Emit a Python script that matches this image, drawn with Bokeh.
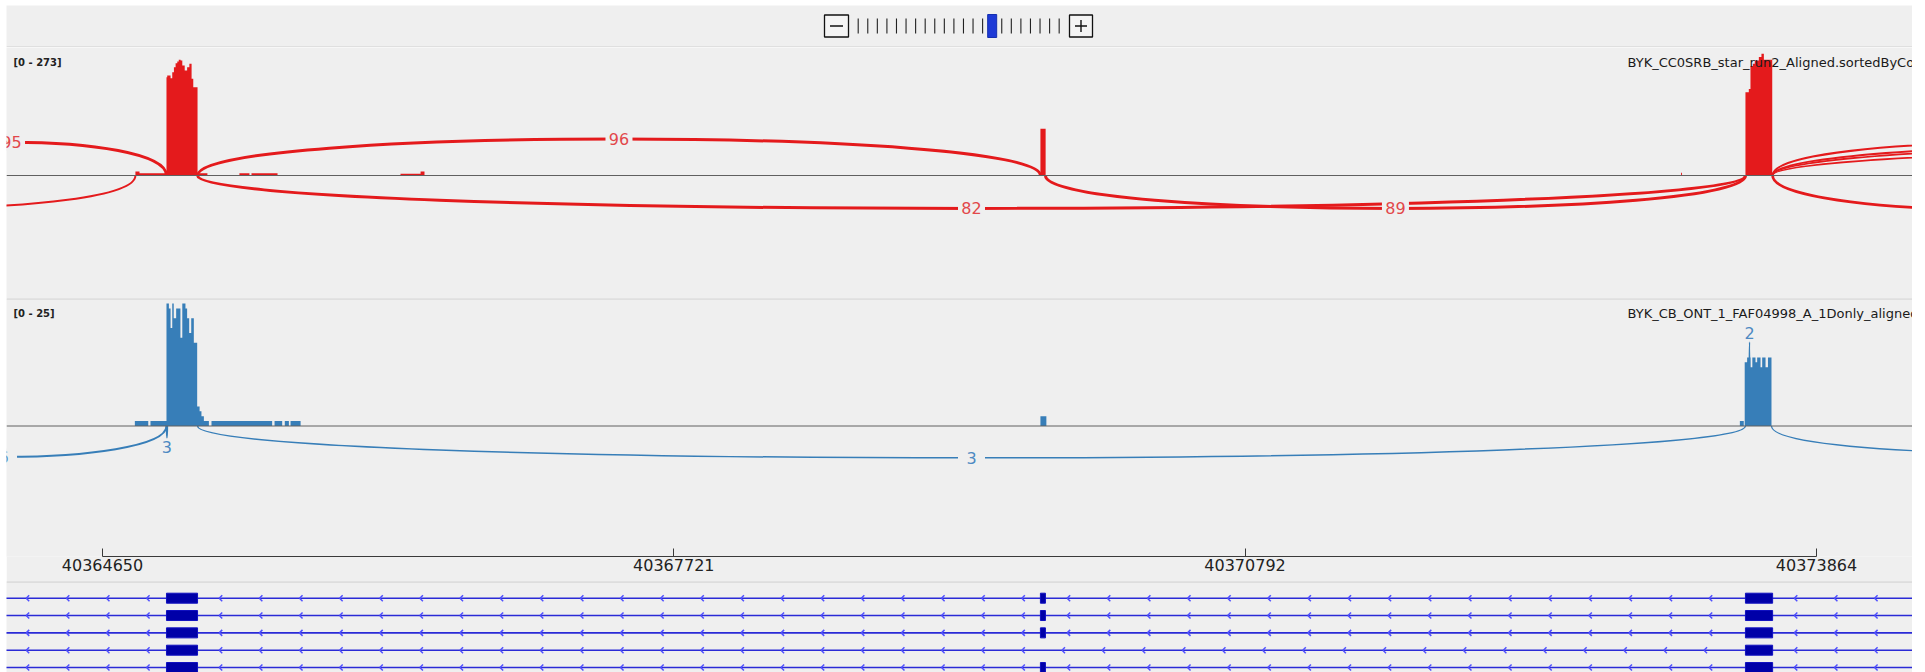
from bokeh.plotting import figure
from bokeh.layouts import column
from bokeh.models import Range1d, Span, Label, FixedTicker, NumeralTickFormatter
from bokeh.core.properties import value
from bokeh.embed import file_html
from bokeh.resources import INLINE

# ---------------- data ----------------
VIEW_START = 40364134
VIEW_END = 40374380
ruler_ticks = [40364650, 40367721, 40370792, 40373864]
zoom_levels = 22
current_zoom = 14

red_name = "BYK_CC0SRB_star_run2_Aligned.sortedByCoord.out.bam"
red_range = "[0 - 273]"
red_cov_start = [40364827, 40364849, 40364994, 40364998, 40365016, 40365025, 40365034, 40365043,
                 40365052, 40365060, 40365070, 40365079, 40365092, 40365105, 40365117, 40365129,
                 40365138, 40365161, 40365386, 40365451, 40366252, 40366360, 40369692, 40373136,
                 40373482, 40373500, 40373509, 40373522, 40373532, 40373554, 40373568, 40373581]
red_cov_end = [40364849, 40364994, 40364998, 40365016, 40365025, 40365034, 40365043, 40365052,
               40365060, 40365070, 40365079, 40365092, 40365105, 40365117, 40365129, 40365138,
               40365161, 40365214, 40365440, 40365591, 40366360, 40366381, 40369720, 40373141,
               40373500, 40373509, 40373522, 40373532, 40373554, 40373568, 40373581, 40373626]
red_cov_depth = [9, 5, 218, 222, 216, 229, 240, 249, 253, 257, 255, 244, 233, 240, 248, 215,
                 196, 5, 5, 5, 4, 9, 104, 6, 185, 192, 243, 248, 255, 263, 270, 257]

red_jx_start = [40363328, 40365161, 40365161, 40369719, 40362500, 40373628, 40373628, 40373628, 40373628, 40373628]
red_jx_end = [40364994, 40369692, 40373482, 40373482, 40364827, 40376315, 40378616, 40380229, 40384379, 40376315]
red_jx_count = [95, 96, 82, 89, 35, 40, 30, 25, 20, 70]
red_jx_side = [1, 1, -1, -1, -1, 1, 1, 1, 1, -1]
red_jx_peak = [74, 81, 73, 73, 72, 73, 73, 73, 73, 78]

blue_name = "BYK_CB_ONT_1_FAF04998_A_1Donly_aligned.sorted.bam"
blue_range = "[0 - 25]"
blue_cov_start = [40364824, 40364908, 40364994, 40365007, 40365016, 40365025, 40365033, 40365046,
                  40365069, 40365079, 40365096, 40365105, 40365116, 40365127, 40365141, 40365159,
                  40365172, 40365182, 40365195, 40365236, 40365575, 40365630, 40365661, 40369692,
                  40373452, 40373478, 40373491, 40373509, 40373519, 40373536, 40373545, 40373563,
                  40373572, 40373590, 40373603]
blue_cov_end = [40364896, 40364994, 40365007, 40365016, 40365025, 40365033, 40365046, 40365069,
                40365079, 40365096, 40365105, 40365116, 40365127, 40365141, 40365159, 40365172,
                40365182, 40365195, 40365222, 40365562, 40365616, 40365652, 40365715, 40369724,
                40373473, 40373491, 40373509, 40373519, 40373536, 40373545, 40373563, 40373572,
                40373590, 40373603, 40373622]
blue_cov_depth = [1, 1, 25, 24, 20, 25, 22, 24, 18, 25, 24, 22, 19, 22, 17, 4, 3, 2, 1, 1, 1, 1, 1,
                  2, 1, 13, 14, 12, 14, 13, 14, 12, 14, 12, 14]

blue_jx_start = [40363242, 40365161, 40364994, 40373502, 40373622]
blue_jx_end = [40364994, 40373482, 40364999, 40373506, 40376315]
blue_jx_count = [6, 3, 3, 2, 2]
blue_jx_side = [-1, -1, -1, 1, -1]
blue_jx_peak = [6.3, 6.5, 2.4, 17.1, 5.5]

gene_exon_start = [40362300, 40364994, 40369692, 40373482, 40376315]
gene_exon_end = [40363328, 40365161, 40369719, 40373628, 40376450]
transcripts = [[0, 1, 2, 3, 4], [0, 1, 2, 3, 4], [0, 1, 2, 3, 4], [0, 1, 3, 4], [0, 1, 2, 3, 4]]

# ---------------- style / layout ----------------
W = 1906
BG = "#efefef"
FONT = "DejaVu Sans"
RED = "#e41a1c"
RED_LBL = "#e2474a"
BLUE = "#377eb8"
BLUE_LBL = "#4d89c2"
BPP = (VIEW_END - VIEW_START) / W

xr = Range1d(VIEW_START, VIEW_END)


def base_fig(height, x_range, y_range, **kw):
    opts = dict(width=W, height=height, x_range=x_range, y_range=y_range,
                output_backend="svg", toolbar_location=None, min_border=0,
                background_fill_color=BG, border_fill_color=BG, outline_line_color=None,
                x_axis_location=None, y_axis_location=None)
    opts.update(kw)
    p = figure(**opts)
    p.xgrid.grid_line_color = None
    p.ygrid.grid_line_color = None
    return p


def coverage_runs(starts, ends, depths):
    xs, ys = [], []
    cx, cy = [], []
    prev = None
    for s, e, d in sorted(zip(starts, ends, depths)):
        if prev is None or s != prev:
            if cx:
                cx.append(prev); cy.append(0)
                xs.append(cx); ys.append(cy)
            cx, cy = [s], [0]
        cx += [s, e]
        cy += [d, d]
        prev = e
    if cx:
        cx.append(prev); cy.append(0)
        xs.append(cx); ys.append(cy)
    return xs, ys


def draw_track(p, ppu, cov, jx, color, lbl_color, width_fn, name, rng, label_y):
    s, e, c, side, peak = jx
    n = len(s)
    cyv = [sd * pk / 0.75 for sd, pk in zip(side, peak)]
    p.bezier(x0=s, y0=[0] * n, x1=e, y1=[0] * n, cx0=s, cy0=cyv, cx1=e, cy1=cyv,
             line_color=color, line_width=[width_fn(v) for v in c])
    xs, ys = coverage_runs(*cov)
    p.patches(xs, ys, fill_color=color, line_color=None)
    p.add_layout(Span(location=0, dimension="width", line_color="#606060", line_width=1))
    lx, ly, lt, bx, by = [], [], [], [], []
    for i in range(n):
        mid = (s[i] + e[i]) / 2
        # labels of arcs whose middle lies outside the view are not drawn
        if mid < VIEW_START - 12 * BPP or mid > VIEW_END + 12 * BPP:
            continue
        tiny = (e[i] - s[i]) / BPP < 3
        y = side[i] * (peak[i] + (9.5 / ppu if tiny else 0))
        lx.append(mid); ly.append(y); lt.append(str(c[i]))
        if not tiny:
            bx.append(mid); by.append(y)
    p.rect(x=bx, y=by, width=27, height=17, width_units="screen", height_units="screen",
           fill_color=BG, line_color=None)
    p.text(x=lx, y=ly, text=lt, text_align="center", text_baseline="middle",
           text_font=value(FONT), text_font_size="16px", text_color=lbl_color)
    p.add_layout(Label(x=VIEW_START + 7 * BPP, y=label_y, text=rng, text_font=FONT,
                       text_font_size="10px", text_font_style="bold", text_color="#222222",
                       text_baseline="middle"))
    p.add_layout(Label(x=VIEW_START + 1621 * BPP, y=label_y, text=name, text_font=FONT,
                       text_font_size="13px", text_color="#1a1a1a", text_baseline="middle"))


# ---------------- header (zoom widget) ----------------
hdr = base_fig(42, Range1d(6, 1912), Range1d(47, 5))
hdr.quad(left=[824, 1069], right=[848, 1092], top=[14.5, 14.5], bottom=[36.5, 36.5],
         fill_color="#f4f4f4", line_color="#111111", line_width=1.3)
hdr.segment(x0=[829.5, 1074.5, 1080.5], y0=[25.5, 25.5, 19.5], x1=[842.5, 1086.5, 1080.5],
            y1=[25.5, 25.5, 31.5], line_color="#111111", line_width=1.4)
tick_x = [857.7 + 9.57 * i for i in range(zoom_levels) if i != current_zoom]
hdr.segment(x0=tick_x, y0=[18] * len(tick_x), x1=tick_x, y1=[33] * len(tick_x),
            line_color="#222222", line_width=1.1)
cur_x = 857.7 + 9.57 * current_zoom
hdr.quad(left=[cur_x - 4.5], right=[cur_x + 4.5], top=[14], bottom=[37],
         fill_color="#1e3ad6", line_color="#1530b0", line_width=1)
hdr.segment(x0=[6], y0=[46.5], x1=[1912], y1=[46.5], line_color="#d0d0d0", line_width=1.2)

# ---------------- track 1 (red) ----------------
T1_LO, T1_HI = -273.0, 284.1
t1 = base_fig(251, xr, Range1d(T1_LO, T1_HI))
ppu1 = 251 / (T1_HI - T1_LO)
draw_track(t1, ppu1, (red_cov_start, red_cov_end, red_cov_depth),
           (red_jx_start, red_jx_end, red_jx_count, red_jx_side, red_jx_peak),
           RED, RED_LBL, lambda v: 1.2 + 1.8 * min(1.0, v / 80.0),
           red_name, red_range, (175 - 62) / ppu1)

# ---------------- track 2 (blue) + ruler ----------------
T2_LO, T2_HI = -26.63, 26.02
t2 = base_fig(283, xr, Range1d(T2_LO, T2_HI), x_axis_location="below", min_border_bottom=25)
ppu2 = 258 / (T2_HI - T2_LO)
t2.add_layout(Span(location=T2_HI, dimension="width", line_color="#d0d0d0", line_width=2))
draw_track(t2, ppu2, (blue_cov_start, blue_cov_end, blue_cov_depth),
           (blue_jx_start, blue_jx_end, blue_jx_count, blue_jx_side, blue_jx_peak),
           BLUE, BLUE_LBL, lambda v: 1.0 + v / 6.0,
           blue_name, blue_range, (127.5 - 14.5) / ppu2)
ax = t2.xaxis[0]
ax.ticker = FixedTicker(ticks=ruler_ticks)
ax.formatter = NumeralTickFormatter(format="0")
ax.bounds = (ruler_ticks[0], ruler_ticks[-1])
ax.major_tick_in = 8
ax.major_tick_out = 0
ax.minor_tick_line_color = None
ax.axis_line_color = "#3a3a3a"
ax.major_tick_line_color = "#3a3a3a"
ax.axis_line_width = 1.2
ax.major_label_text_font = FONT
ax.major_label_text_font_size = "16px"
ax.major_label_text_color = "#222222"
ax.major_label_standoff = 2

# ---------------- gene track ----------------
ROW_PX = 17.33
g_top = -16.7 / ROW_PX
g_bot = (91 - 16.7) / ROW_PX
gf = base_fig(91, xr, Range1d(g_bot, g_top))
gf.add_layout(Span(location=g_top, dimension="width", line_color="#cccccc", line_width=2))
half = 5.0 / ROW_PX
chev_h = 3.0 / ROW_PX
lx0, lx1, ly = [], [], []
el, er, et, eb = [], [], [], []
cx0, cy0, cx1, cy1 = [], [], [], []
for r, tx in enumerate(transcripts):
    lx0.append(gene_exon_start[tx[0]]); lx1.append(gene_exon_end[tx[-1]]); ly.append(r)
    for k in tx:
        el.append(gene_exon_start[k]); er.append(gene_exon_end[k])
        et.append(r - half); eb.append(r + half)
    for a, b in zip(tx[:-1], tx[1:]):
        i0 = max(gene_exon_end[a], VIEW_START - 2 * BPP)
        i1 = gene_exon_start[b]
        pos = i0 + 21.7 * BPP
        while pos < min(i1 - 8 * BPP, VIEW_END):
            for sgn in (-1, 1):
                cx0.append(pos + 3 * BPP); cy0.append(r + sgn * chev_h)
                cx1.append(pos); cy1.append(r)
            pos += 40.13 * BPP
gf.segment(x0=lx0, y0=ly, x1=lx1, y1=ly, line_color="#2a2ad6", line_width=1.6)
gf.segment(x0=cx0, y0=cy0, x1=cx1, y1=cy1, line_color="#5050ff", line_width=1.5)
gf.quad(left=el, right=er, top=et, bottom=eb, fill_color="#0000a8", line_color="#1010c0", line_width=1)

layout = column(hdr, t1, t2, gf, margin=(5, 0, 0, 6))
open("out.html", "w").write(file_html(layout, INLINE))
